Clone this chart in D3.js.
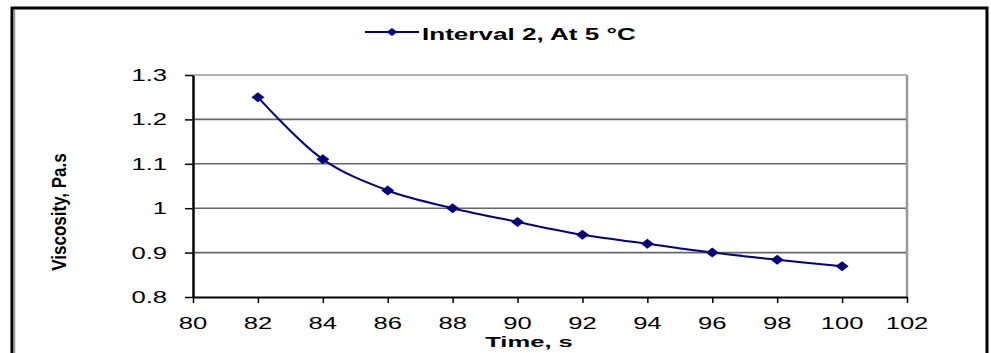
<!DOCTYPE html>
<html>
<head>
<meta charset="utf-8">
<script src="https://cdn.jsdelivr.net/npm/d3@7"></script>
<style>
  html, body { margin: 0; padding: 0; background: #fff; }
  svg { display: block; font-family: "Liberation Sans", Arial, sans-serif; }
</style>
</head>
<body>
<div id="chart"></div>
<script>
// Viscosity over time, interval 2 at 5 °C
const times = [82, 84, 86, 88, 90, 92, 94, 96, 98, 100];
const viscosity = [1.25, 1.11, 1.04, 1.0, 0.969, 0.94, 0.92, 0.9, 0.884, 0.869];
const xTicks = [80, 82, 84, 86, 88, 90, 92, 94, 96, 98, 100, 102];
const yTicks = [0.8, 0.9, 1.0, 1.1, 1.2, 1.3];
const seriesName = "Interval 2, At 5 °C";

const W = 991, H = 353;
const margin = { top: 75, right: 84, bottom: 56, left: 193 };
const STRETCH = 1.6; // text in the source looks horizontally stretched
const NAVY = "#000080";

const svg = d3.select("#chart").append("svg")
  .attr("width", W)
  .attr("height", H);

// outer frame (bottom edge is cut off)
svg.append("path")
  .attr("d", `M12,${H + 5}V8H987V${H + 5}`)
  .attr("fill", "none")
  .attr("stroke", "#000")
  .attr("stroke-width", 3);
svg.append("line")
  .attr("x1", 14.5).attr("x2", 14.5).attr("y1", 10).attr("y2", H)
  .attr("stroke", "#999").attr("stroke-width", 1.5);

const x = d3.scaleLinear().domain([80, 102]).range([margin.left, W - margin.right]);
const y = d3.scaleLinear().domain([0.8, 1.3]).range([H - margin.bottom, margin.top]);

// gridlines
svg.append("g")
  .selectAll("line")
  .data(yTicks.slice(1))
  .join("line")
  .attr("x1", x(80)).attr("x2", x(102))
  .attr("y1", (d) => y(d)).attr("y2", (d) => y(d))
  .attr("stroke", (d) => d === 1.3 ? "#999" : "#666")
  .attr("stroke-width", 1.6);

// right border of plot area
svg.append("line")
  .attr("x1", x(102)).attr("x2", x(102))
  .attr("y1", y(1.3)).attr("y2", y(0.8))
  .attr("stroke", "#999").attr("stroke-width", 2.5);

// axes
const xAxis = svg.append("g")
  .attr("transform", `translate(0,${y(0.8)})`)
  .call(d3.axisBottom(x).tickValues(xTicks).tickSize(6).tickSizeOuter(0).tickFormat(""));
const yAxis = svg.append("g")
  .attr("transform", `translate(${x(80)},0)`)
  .call(d3.axisLeft(y).tickValues(yTicks).tickSize(8).tickSizeOuter(0).tickFormat(""));
xAxis.select(".domain").attr("stroke", "#000").attr("stroke-width", 2);
yAxis.select(".domain").attr("stroke", "#000").attr("stroke-width", 2.5);
xAxis.selectAll(".tick line").attr("stroke", "#000").attr("stroke-width", 1.5);
yAxis.selectAll(".tick line").attr("stroke", "#000").attr("stroke-width", 1.5);

// tick labels (stretched)
svg.append("g")
  .selectAll("text")
  .data(xTicks)
  .join("text")
  .attr("transform", (d) => `translate(${x(d)},329) scale(${STRETCH},1)`)
  .attr("text-anchor", "middle")
  .style("font-size", "16px")
  .attr("fill", "#000")
  .text((d) => d);

svg.append("g")
  .selectAll("text")
  .data(yTicks)
  .join("text")
  .attr("transform", (d) => `translate(167,${y(d) + 6}) scale(${STRETCH},1)`)
  .attr("text-anchor", "end")
  .style("font-size", "16px")
  .attr("fill", "#000")
  .text((d) => d3.format("~g")(d));

// axis titles
svg.append("text")
  .attr("transform", `translate(529,347) scale(1.65,1)`)
  .attr("text-anchor", "middle")
  .style("font-size", "15.5px")
  .style("font-weight", "bold")
  .text("Time, s");

svg.append("text")
  .attr("transform", `translate(66,212) rotate(-90) scale(1.0,1.15)`)
  .attr("text-anchor", "middle")
  .style("font-size", "17px")
  .style("font-weight", "bold")
  .text("Viscosity, Pa.s");

// series line
const data = times.map((t, i) => ({ t, v: viscosity[i] }));
const line = d3.line()
  .x((d) => x(d.t))
  .y((d) => y(d.v))
  .curve(d3.curveCatmullRom.alpha(0.5));

svg.append("path")
  .datum(data)
  .attr("d", line)
  .attr("fill", "none")
  .attr("stroke", NAVY)
  .attr("stroke-width", 2);

const diamond = (cx, cy, w, h) =>
  `M${cx - w / 2},${cy}L${cx},${cy - h / 2}L${cx + w / 2},${cy}L${cx},${cy + h / 2}Z`;

svg.append("g")
  .selectAll("path")
  .data(data)
  .join("path")
  .attr("d", (d) => diamond(x(d.t), y(d.v), 13, 10))
  .attr("fill", NAVY);

// legend
const lg = svg.append("g");
lg.append("line")
  .attr("x1", 365).attr("x2", 419).attr("y1", 32).attr("y2", 32)
  .attr("stroke", NAVY).attr("stroke-width", 2);
lg.append("path")
  .attr("d", diamond(392, 32, 11, 8))
  .attr("fill", NAVY);
lg.append("text")
  .attr("transform", `translate(422,40) scale(1.63,1)`)
  .style("font-size", "16px")
  .style("font-weight", "bold")
  .text(seriesName);
</script>
</body>
</html>
